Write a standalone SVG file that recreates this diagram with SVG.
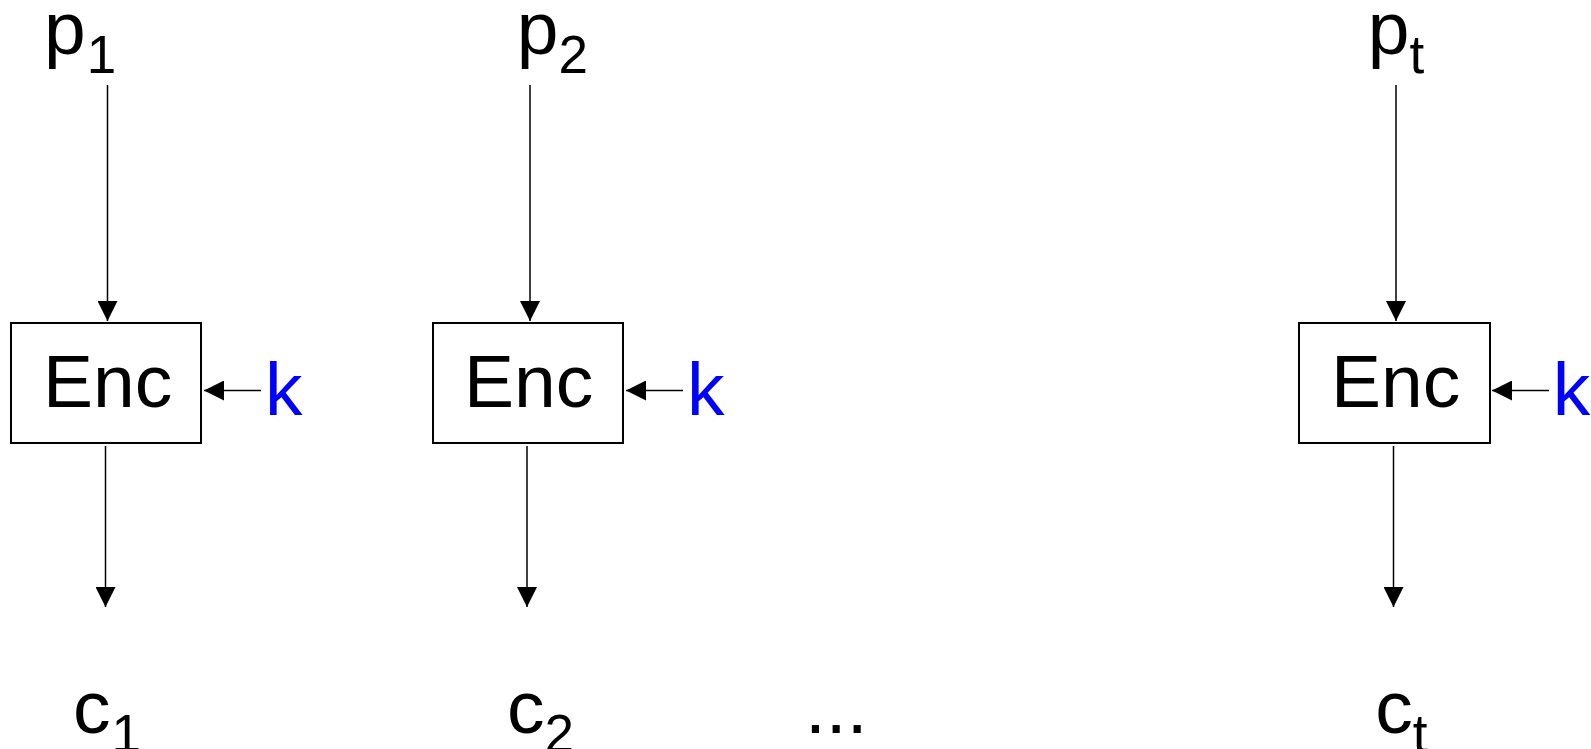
<svg xmlns="http://www.w3.org/2000/svg" width="1591" height="749" viewBox="0 0 1591 749">
  <style>
    .box { fill: #ffffff; stroke: #000000; stroke-width: 2; }
    .lbl { font-family: "Liberation Sans", Arial, sans-serif; font-size: 75px; fill: #000000; }
    .key { font-family: "Liberation Sans", Arial, sans-serif; font-size: 75px; fill: #0000ff; }
    .sub { font-size: 53px; }
    .conn { stroke: #000000; stroke-width: 1.5; fill: none; marker-end: url(#arrow); }
  </style>
  <defs>
    <marker id="arrow" markerUnits="userSpaceOnUse" markerWidth="20" markerHeight="20" refX="20" refY="10" orient="auto">
      <path d="M0,0 L20,10 L0,20 z" fill="#000000"/>
    </marker>
  </defs>
  <rect width="1591" height="749" fill="#ffffff"/>

  <g id="connectors">
    <line class="conn" x1="107.5" y1="85" x2="107.5" y2="321"/>
    <line class="conn" x1="105.5" y1="446" x2="105.5" y2="607"/>
    <line class="conn" x1="261" y1="390.5" x2="204" y2="390.5"/>

    <line class="conn" x1="530" y1="85" x2="530" y2="321"/>
    <line class="conn" x1="527" y1="446" x2="527" y2="607"/>
    <line class="conn" x1="683" y1="390.5" x2="626" y2="390.5"/>

    <line class="conn" x1="1396" y1="85" x2="1396" y2="321"/>
    <line class="conn" x1="1393.5" y1="446" x2="1393.5" y2="607"/>
    <line class="conn" x1="1549" y1="390.5" x2="1492" y2="390.5"/>
  </g>

  <g id="p1"><text class="lbl" x="44" y="54">p<tspan class="sub" dx="1" dy="19">1</tspan></text></g>
  <g id="p2"><text class="lbl" x="516.7" y="54">p<tspan class="sub" dy="19">2</tspan></text></g>
  <g id="pt"><text class="lbl" x="1367.7" y="54">p<tspan class="sub" dy="19">t</tspan></text></g>

  <g id="enc1">
    <rect class="box" x="11" y="323" width="190" height="120"/>
    <text class="lbl" x="43" y="407">Enc</text>
  </g>
  <g id="enc2">
    <rect class="box" x="433" y="323" width="190" height="120"/>
    <text class="lbl" x="464" y="407">Enc</text>
  </g>
  <g id="enct">
    <rect class="box" x="1299" y="323" width="191" height="120"/>
    <text class="lbl" x="1331" y="407">Enc</text>
  </g>

  <g id="k1"><text class="key" x="265" y="415">k</text></g>
  <g id="k2"><text class="key" x="687" y="415">k</text></g>
  <g id="kt"><text class="key" x="1552.7" y="415">k</text></g>

  <g id="c1"><text class="lbl" x="73" y="733">c<tspan class="sub" dx="1" dy="19">1</tspan></text></g>
  <g id="c2"><text class="lbl" x="507" y="733">c<tspan class="sub" dy="19">2</tspan></text></g>
  <g id="ellipsis"><text class="lbl" x="805" y="733">...</text></g>
  <g id="ct"><text class="lbl" x="1375.3" y="733">c<tspan class="sub" dy="19">t</tspan></text></g>
</svg>
